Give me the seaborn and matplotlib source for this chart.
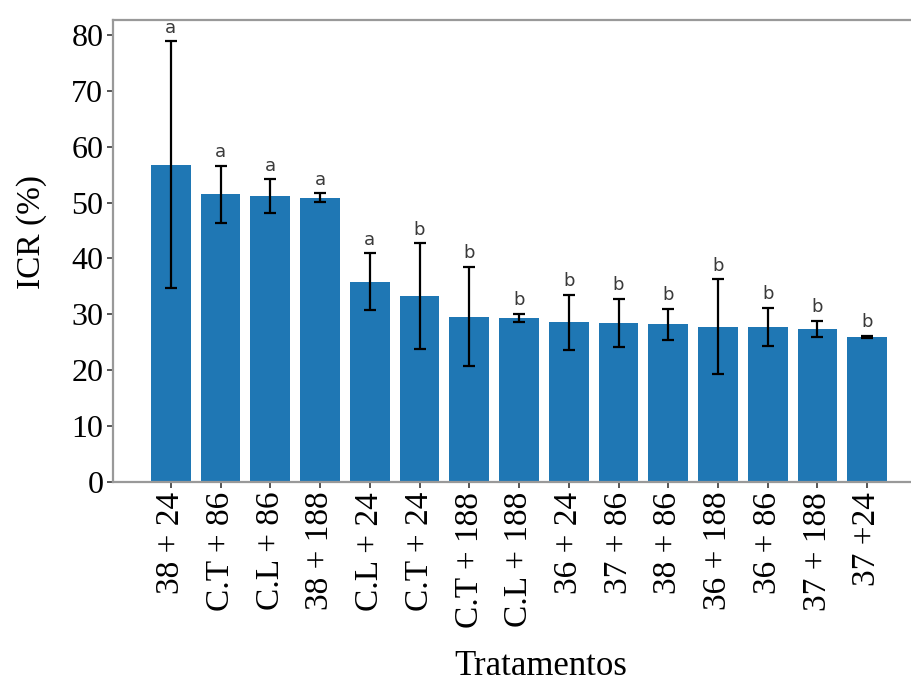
import numpy as np
import pandas as pd
import matplotlib
matplotlib.use('Agg')
import matplotlib.pyplot as plt
import seaborn as sns

treatments = ['38 + 24', 'C.T + 86', 'C.L + 86', '38 + 188', 'C.L + 24', 'C.T + 24',
              'C.T + 188', 'C.L + 188', '36 + 24', '37 + 86', '38 + 86', '36 + 188',
              '36 + 86', '37 + 188', '37 +24']
icr = [56.8, 51.5, 51.2, 50.9, 35.8, 33.3, 29.6, 29.4, 28.6, 28.5, 28.2, 27.8, 27.8, 27.4, 26.0]
err = [22.1, 5.1, 3.0, 0.8, 5.1, 9.4, 8.9, 0.7, 4.9, 4.3, 2.8, 8.5, 3.4, 1.5, 0.2]
letters = ['a', 'a', 'a', 'a', 'a', 'b', 'b', 'b', 'b', 'b', 'b', 'b', 'b', 'b', 'b']

df = pd.DataFrame({'Tratamento': treatments, 'ICR': icr})

sns.set_style('ticks')
serif = ['Liberation Serif', 'DejaVu Serif']

fig = plt.figure(figsize=(9.12, 6.81), dpi=100)
ax = fig.add_axes([0.124, 0.292, 0.876, 0.679])

sns.barplot(data=df, x='Tratamento', y='ICR', order=treatments, color='#1f77b4',
            saturation=1, width=0.8, edgecolor='none', ax=ax)

xs = np.arange(len(treatments))
ax.errorbar(xs, icr, yerr=err, fmt='none', ecolor='black', elinewidth=1.6,
            capsize=4.5, capthick=1.6, zorder=5)

for x, v, e, l in zip(xs, icr, err, letters):
    ax.text(x, v + e + 0.8, l, ha='center', va='bottom', fontsize=13,
            color='#3a3a3a', family='DejaVu Sans')

ax.set_xlim(-1.16, 14.9)
ax.set_ylim(0, 82.7)
ax.set_yticks(range(0, 81, 10))

for s in ['left', 'top', 'bottom']:
    ax.spines[s].set_color('#999999')
    ax.spines[s].set_linewidth(1.6)
ax.spines['right'].set_visible(False)

ax.tick_params(axis='both', direction='out', length=4, width=1.4, color='#555555',
               labelcolor='black', bottom=True, left=True)
ax.tick_params(axis='y', pad=3)
ax.tick_params(axis='x', pad=3)
for t in ax.get_yticklabels():
    t.set_family(serif)
    t.set_fontsize(23)
for t in ax.get_xticklabels():
    t.set_family(serif)
    t.set_fontsize(24)
    t.set_rotation(90)

ax.set_ylabel('ICR (%)', family=serif, fontsize=24, color='black')
ax.set_xlabel('Tratamentos', family=serif, fontsize=25, color='black')
ax.yaxis.set_label_coords(-0.083, 0.54)
ax.xaxis.set_label_coords(0.535, -0.362)

fig.savefig('out.png', dpi=100)
